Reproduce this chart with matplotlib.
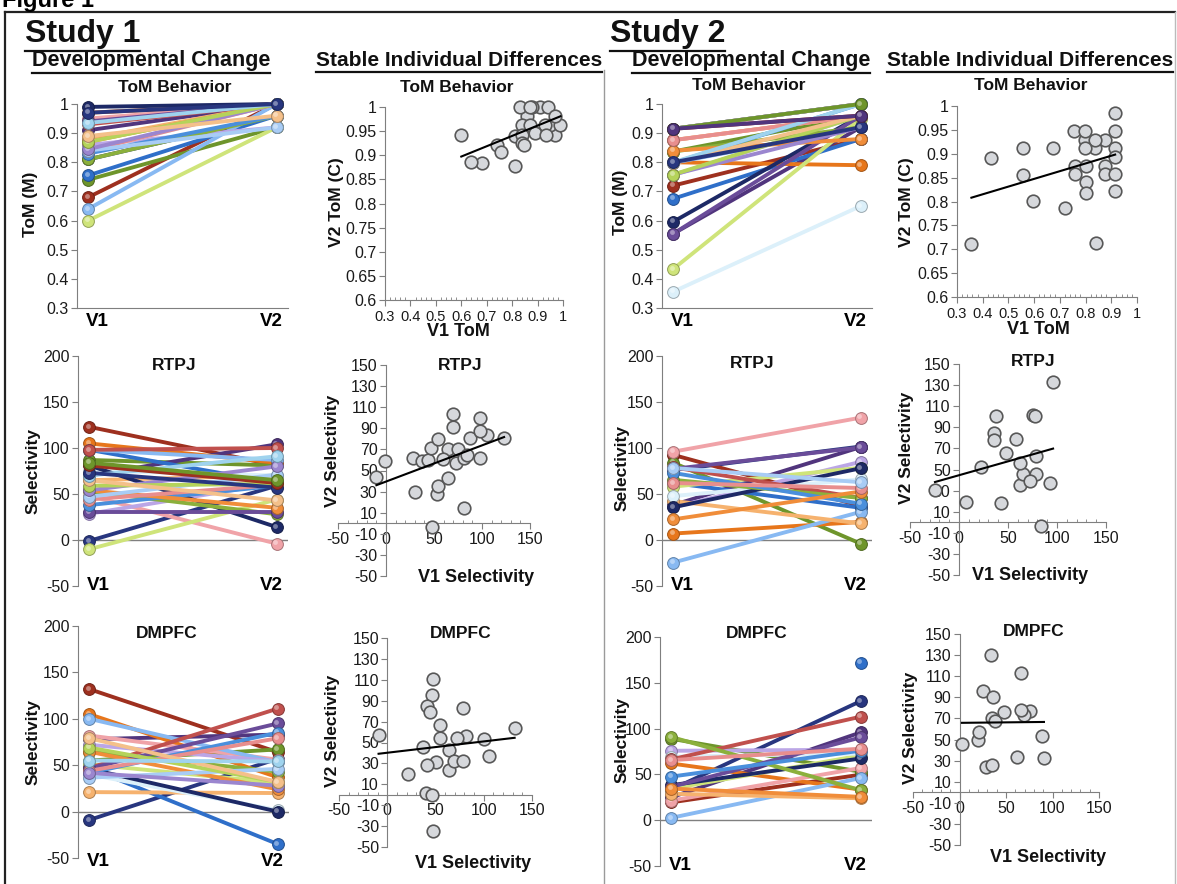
import numpy as np
import matplotlib.pyplot as plt
import matplotlib.colors as mcolors
import matplotlib.transforms as mtransforms
from matplotlib.ticker import FuncFormatter, MultipleLocator
from matplotlib.lines import Line2D

plt.rcParams['font.family'] = ['Liberation Sans', 'DejaVu Sans']

# ---------------- Study 1 ----------------
tom1_v1 = [0.81, 0.68, 0.74, 0.91, 0.755, 0.97, 0.95, 0.64, 0.86, 0.60, 0.88, 0.84, 0.99,
           0.93, 0.81, 0.94, 0.83, 0.87, 0.84, 0.84, 0.845, 0.87, 0.89, 0.935, 0.97]
tom1_v2m = [0.96, 1.0, 0.92, 1.0, 0.96, 1.0, 1.0, 1.0, 0.92, 0.92, 1.0, 1.0, 1.0,
            1.0, 0.96, 1.0, 0.96, 1.0, 1.0, 0.92, 1.0, 1.0, 0.96, 1.0, 1.0]
tom1_v2c = [0.877, 0.884, 0.922, 1.0, 0.906, 0.943, 0.963, 0.887, 0.981, 0.943, 1.0, 0.963, 0.963,
            0.963, 0.94, 1.0, 1.0, 1.0, 0.943, 0.925, 0.922, 0.963, 0.946, 0.943, 0.981]

rtpj1_v1 = [-1, 123, 87, 70, 98, 105, 48, 98, 28.5, -10, 65, 75.5, 81, 98,
            53, 30, 38, 54, 44, 47, 54, 59, 65, 70, 73, 81, 84]
rtpj1_v2 = [59, 81, 81, 104, 62, 84, -4, 87, 62, 44, 70, 70, 14, 100,
            28, 30, 59, 35, 60, 71, 80, 61, 43, 91, 57, 62, 65]

dmpfc1_v1 = [-9, 132, 55, 78, 47, 105, 82, 100, 72, 51, 21, 40, 46,
             47, 64.5, 46.6, 41.7, 64.5, 44, 36.6, 41.7, 69, 79, 55]
dmpfc1_v2 = [57, 64, 67, 83, -35, 37, 56, 53, 54, 31, 20, 1.6, 0,
             111, 43, 95, 85, 24, 79, 46, 28, 32, 32, 54]

# ---------------- Study 2 ----------------
tom2_v1 = [0.915, 0.72, 0.837, 0.555, 0.675, 0.80, 0.876, 0.798, 0.756, 0.434, 0.876, 0.356, 0.596,
           0.915, 0.837, 0.555, 0.798, 0.84, 0.876, 0.915, 0.758, 0.758, 0.798, 0.80, 0.80,
           0.915, 0.915, 0.915]
tom2_v2m = [1.0, 0.88, 0.96, 0.92, 0.88, 0.79, 0.96, 0.92, 0.96, 0.95, 0.96, 0.65, 0.96,
            1.0, 0.92, 0.96, 1.0, 0.88, 0.96, 1.0, 0.92, 0.96, 0.96, 1.0, 0.92,
            0.96, 1.0, 0.96]
tom2_v2c = [0.948, 0.786, 0.911, 0.856, 0.911, 0.84, 0.929, 0.929, 0.948, 0.892, 0.875, 0.71, 0.802,
            0.911, 0.929, 0.911, 0.948, 0.713, 0.857, 0.986, 0.875, 0.857, 0.911, 0.875, 0.817,
            0.894, 0.857, 0.822]

rtpj2_v1 = [76, 92.5, 84, 38, 62, 7, 96, -24.5, 35.6, 58, 42.4, 47.8, 35.6, 79,
            65.4, 77.3, 72.9, 22.4, 62, 78.3]
rtpj2_v2 = [101.6, 37, -4, 101, 35, 19.6, 133, 30.6, 85, 78.5, 18, 66, 78, 45.7,
            45.7, 100.6, 39.4, 52.7, 56.5, 62.8]

dmpfc2_v1 = [33.4, 19.5, 88.9, 25, np.nan, 61.9, 21.4, 2.6, 75.8, 34.5, 28.9, 69.4, 38.2,
             66.4, 90.8, 36.4, 47.6, 34.5, 65.6]
dmpfc2_v2 = [130, 49.7, 52.9, 95.8, 172, 33.4, 57, 46, 76.9, 70.6, 23.9, 72.8, 67.4,
             113, 32.8, 90.3, 75.9, 25.5, 78]

pal = ['#28367f', '#9e301f', '#6e952b', '#51357d', '#2f6fc9', '#e7761b', '#f0a3a8', '#88b9f2',
       '#bba6e6', '#cfe47a', '#f6b26e', '#dcf0fa', '#1d2966', '#c0504d', '#8bb03c', '#6a4c99',
       '#4a8fdc', '#f08d3a', '#e88e8e', '#a8ccf5', '#9b86cf', '#b5d35a', '#f4c08a', '#9fd3ee']

W, H = 1177, 884
fig = plt.figure(figsize=(W / 100, H / 100), dpi=100)


def px_axes(left, top, right, bottom):
    return fig.add_axes([left / W, 1 - bottom / H, (right - left) / W, (bottom - top) / H])


def ftext(x, y, s, **kw):
    return fig.text(x / W, 1 - y / H, s, **kw)


def shade(c, f):
    r, g, b = mcolors.to_rgb(c)
    return (r * f, g * f, b * f)


def tint(c, f):
    r, g, b = mcolors.to_rgb(c)
    return (r + (1 - r) * f, g + (1 - g) * f, b + (1 - b) * f)


gfmt = FuncFormatter(lambda v, p: f'{round(v, 3):g}')
axis_grey = '#7f7f7f'


def dev_panel(ax, v1, v2, ylim, step, tom, lab_dy):
    hl = mtransforms.offset_copy(ax.transData, fig=fig, x=-1.3, y=1.3, units='dots')
    for i, (a, b) in enumerate(zip(v1, v2)):
        c = pal[i % len(pal)]
        z = 3 + i * 0.01
        ax.plot([0, 1], [a, b], color=c, lw=2.8, zorder=z, clip_on=False)
        ax.plot([0, 1], [a, b], ls='none', marker='o', ms=8.5, mfc=c,
                mec=shade(c, 0.7), mew=0.7, zorder=z + 0.003, clip_on=False)
        ax.plot([0, 1], [a, b], ls='none', marker='o', ms=3.5, mfc=tint(c, 0.5),
                mec='none', alpha=0.8, transform=hl, zorder=z + 0.006, clip_on=False)
    ax.set_xlim(-0.06, 1.06)
    ax.set_ylim(*ylim)
    ax.yaxis.set_major_locator(MultipleLocator(step))
    ax.yaxis.set_major_formatter(gfmt)
    ax.set_xticks([])
    for s in ['top', 'right']:
        ax.spines[s].set_visible(False)
    ax.spines['left'].set_color(axis_grey)
    if tom:
        ax.spines['bottom'].set_color(axis_grey)
    else:
        ax.spines['bottom'].set_visible(False)
        ax.axhline(0, color=axis_grey, lw=1, zorder=1)
    ax.tick_params(axis='y', direction='out', length=4, color=axis_grey,
                   labelsize=11.5, pad=2, labelcolor='#1a1a1a')
    ax.patch.set_alpha(0)
    tr = mtransforms.blended_transform_factory(ax.transData, ax.transAxes)
    ax.annotate('V1', xy=(0, 0), xycoords=tr, xytext=(9, lab_dy), textcoords='offset pixels',
                ha='center', va='center', fontsize=13.5, fontweight='bold')
    ax.annotate('V2', xy=(1, 0), xycoords=tr, xytext=(-5, lab_dy), textcoords='offset pixels',
                ha='center', va='center', fontsize=13.5, fontweight='bold')


def scat_panel(ax, x, y, xlim, ylim, xstep, ystep, yfirst, tom):
    x = np.asarray(x, float)
    y = np.asarray(y, float)
    ok = ~np.isnan(x) & ~np.isnan(y)
    ax.scatter(x[ok], y[ok], s=82, c='#d6d8dc', edgecolors='#575757', linewidths=1.2,
               zorder=3, clip_on=False)
    k, b0 = np.polyfit(x[ok], y[ok], 1)
    xs = np.array([x[ok].min(), x[ok].max()])
    ax.plot(xs, k * xs + b0, color='black', lw=1.5, zorder=4)
    ax.set_xlim(*xlim)
    ax.set_ylim(*ylim)
    ax.xaxis.set_major_locator(MultipleLocator(xstep))
    ax.yaxis.set_major_locator(MultipleLocator(ystep, offset=yfirst % ystep))
    ax.xaxis.set_minor_locator(MultipleLocator(xstep / 5))
    ax.xaxis.set_major_formatter(gfmt)
    ax.yaxis.set_major_formatter(gfmt)
    for s in ['top', 'right']:
        ax.spines[s].set_visible(False)
    for s in ['left', 'bottom']:
        ax.spines[s].set_color(axis_grey)
    if not tom:
        ax.spines['left'].set_position(('data', 0))
        ax.spines['bottom'].set_position(('data', 0))
    ax.tick_params(direction='out', length=4, color=axis_grey, labelsize=11.5, pad=2,
                   labelcolor='#1a1a1a')
    if tom:
        ax.tick_params(axis='x', labelsize=10.5, pad=3)
    ax.tick_params(axis='x', which='minor', direction='in', length=2, color=axis_grey)
    ax.patch.set_alpha(0)


# ---------------- panels ----------------
ax = px_axes(77, 104, 288, 308)
dev_panel(ax, tom1_v1, tom1_v2m, (0.3, 1.0), 0.1, True, -13)
ax = px_axes(662, 104, 872, 308)
dev_panel(ax, tom2_v1, tom2_v2m, (0.3, 1.0), 0.1, True, -13)

ax = px_axes(78, 356, 288, 586)
dev_panel(ax, rtpj1_v1, rtpj1_v2, (-50, 200), 50, False, 1)
ax = px_axes(662, 356, 872, 586)
dev_panel(ax, rtpj2_v1, rtpj2_v2, (-50, 200), 50, False, 1)

ax = px_axes(78, 626, 289, 858)
dev_panel(ax, dmpfc1_v1, dmpfc1_v2, (-50, 200), 50, False, -4)
ax = px_axes(660, 637, 872, 866)
dev_panel(ax, dmpfc2_v1, dmpfc2_v2, (-50, 200), 50, False, 0)

ax = px_axes(385, 107, 563, 300)
scat_panel(ax, tom1_v1, tom1_v2c, (0.3, 1.0), (0.6, 1.0), 0.1, 0.05, 0.6, True)
ax = px_axes(957, 106, 1137, 297)
scat_panel(ax, tom2_v1, tom2_v2c, (0.3, 1.0), (0.6, 1.0), 0.1, 0.05, 0.6, True)

ax = px_axes(338, 365, 530, 576)
scat_panel(ax, rtpj1_v1, rtpj1_v2, (-50, 150), (-50, 150), 50, 20, -50, False)
ax = px_axes(910, 364, 1106, 575)
scat_panel(ax, rtpj2_v1, rtpj2_v2, (-50, 150), (-50, 150), 50, 20, -50, False)

ax = px_axes(339, 638, 532, 847)
scat_panel(ax, dmpfc1_v1, dmpfc1_v2, (-50, 150), (-50, 150), 50, 20, -50, False)
ax = px_axes(913, 634, 1099, 845)
scat_panel(ax, dmpfc2_v1, dmpfc2_v2, (-50, 150), (-50, 150), 50, 20, -50, False)

# ---------------- texts ----------------
tb = dict(fontweight='bold', ha='center', va='center', color='#111111')
for x, y in [(175, 88), (457, 88), (749, 86), (1031, 85)]:
    ftext(x, y, 'ToM Behavior', fontsize=12.5, **tb)
for x, y in [(174, 365), (460, 365), (752, 363), (1033, 362)]:
    ftext(x, y, 'RTPJ', fontsize=12.5, **tb)
for x, y in [(167, 633), (461, 633), (757, 634), (1034, 632)]:
    ftext(x, y, 'DMPFC', fontsize=12.5, **tb)

for x, y, s in [(31, 204, 'ToM (M)'), (620, 202, 'ToM (M)'),
                (337, 202, 'V2 ToM (C)'), (907, 202, 'V2 ToM (C)'),
                (33, 471, 'Selectivity'), (622, 468, 'Selectivity'),
                (333, 451, 'V2 Selectivity'), (907, 448, 'V2 Selectivity'),
                (33, 742, 'Selectivity'), (622, 740, 'Selectivity'),
                (333, 731, 'V2 Selectivity'), (910, 728, 'V2 Selectivity')]:
    ftext(x, y, s, rotation=90, fontsize=12.5, **tb)

for x, y, s in [(458, 332, 'V1 ToM'), (1038, 329, 'V1 ToM'),
                (476, 578, 'V1 Selectivity'), (1030, 575, 'V1 Selectivity'),
                (473, 863, 'V1 Selectivity'), (1048, 858, 'V1 Selectivity')]:
    ftext(x, y, s, fontsize=13, **tb)


def underlined(x, y, s, size):
    t = ftext(x, y, s, fontsize=size, fontweight='bold', ha='left', va='baseline', color='#111111')
    fig.canvas.draw()
    bb = t.get_window_extent()
    yl = bb.y0 - 0.5
    fig.add_artist(Line2D([bb.x0 / W, bb.x1 / W], [yl / H - 1.5 / H, yl / H - 1.5 / H],
                          color='#111111', lw=1.6))


underlined(25, 42, 'Study 1', 23)
underlined(610, 42, 'Study 2', 23)
underlined(32, 66, 'Developmental Change', 15.5)
underlined(632, 66, 'Developmental Change', 15.5)
underlined(316, 66, 'Stable Individual Differences', 15)
underlined(887, 66, 'Stable Individual Differences', 15)

ftext(2, 0, 'Figure 1', fontsize=17, fontweight='bold', ha='left', va='center')

# frame and divider
frame = dict(color='#222222', lw=1.6)
fig.add_artist(Line2D([5 / W, 5 / W], [0, 1 - 12 / H], **frame))
fig.add_artist(Line2D([5 / W, 1175 / W], [1 - 12 / H, 1 - 12 / H], **frame))
fig.add_artist(Line2D([1175 / W, 1175 / W], [0, 1 - 12 / H], color='#bbbbbb', lw=1))
fig.add_artist(Line2D([604 / W, 604 / W], [0, 1 - 70 / H], color='#9a9a9a', lw=1))

fig.savefig('out.png', dpi=100)
